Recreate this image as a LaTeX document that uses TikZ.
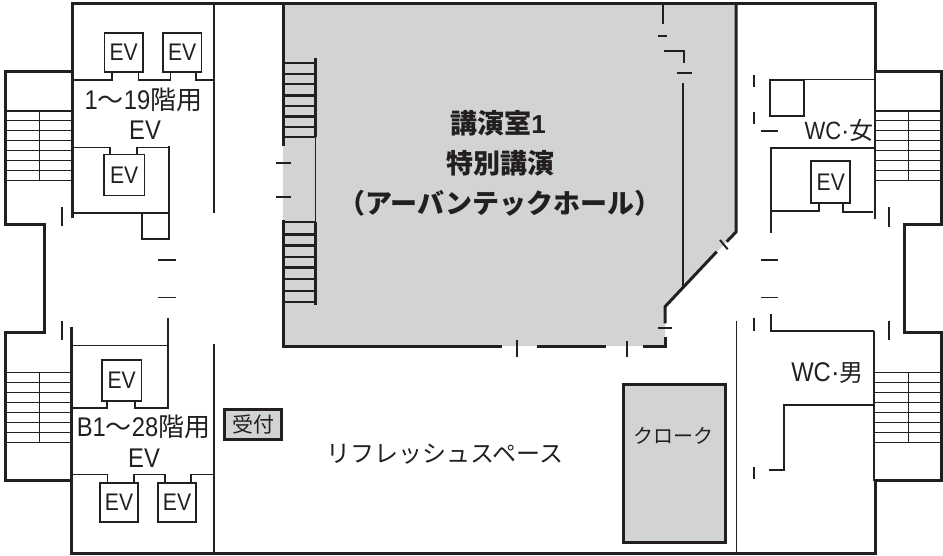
\documentclass[tikz,border=0pt]{standalone}
\usepackage{fontspec}
\usepackage{graphicx}
\setmainfont{Liberation Sans}
\newfontfamily\jp{Noto Sans CJK JP}
\definecolor{ink}{HTML}{231F20}
\definecolor{hallgray}{HTML}{D1D3D4}
\newcommand{\fsz}[1]{\fontsize{#1}{#1}\selectfont}
\newcommand{\cond}[1]{\scalebox{0.88}[1]{#1}}
\tikzset{
  heavy/.style={draw=ink,line width=3pt},
  medium/.style={draw=ink,line width=2pt},
  light/.style={draw=ink,line width=1.5pt},
  evbox/.style={draw=ink,line width=1.8pt,fill=white,minimum width=38.5pt,minimum height=39pt,inner sep=0pt,font=\fsz{24},text=ink},
  label/.style={inner sep=0pt,text=ink,font=\fsz{22}},
  halltext/.style={inner sep=0pt,text=ink,font=\fsz{27}\jp\bfseries},
  graybox/.style={draw=ink,line width=3pt,fill=hallgray,inner sep=0pt}
}
\begin{document}
\begin{tikzpicture}[x=1pt,y=-1pt]
\useasboundingbox (0,0) rectangle (943,555);
% hall fill
\fill[hallgray] (283,3) -- (736,3) -- (736,232) -- (665,306.7) -- (665,346) -- (283,346) -- cycle;
% outer walls
\draw[heavy] (72,218) -- (72,3) -- (875,3) -- (875,71);
\draw[heavy] (72,71) -- (5.5,71) -- (5.5,224) -- (44,224) -- (44,332) -- (5.5,332) -- (5.5,480) -- (73,480);
\draw[heavy] (71.5,327) -- (71.5,553) -- (875,553) -- (875,480.7);
\draw[heavy] (875,71) -- (941.5,71) -- (941.5,224) -- (904,224) -- (904,332) -- (941.5,332) -- (941.5,480.7) -- (875,480.7);
\draw[light] (875,71) -- (875,219);
\draw[light] (874,331) -- (874,481);
% stairs
\foreach \ya in {110.7,120.7,130.7,140.7,150.7,160.7,170.7,180.7}{
  \draw[light] (6,\ya) -- (72,\ya);
  \draw[light] (875,\ya) -- (941,\ya);
}
\foreach \ya in {372.7,382.7,392.7,402.7,412.7,422.7,432.7,442.7}{
  \draw[light] (6,\ya) -- (72,\ya);
  \draw[light] (875,\ya) -- (941,\ya);
}
\draw[medium] (6,110.7) -- (72,110.7) (875,110.7) -- (941,110.7);
\draw[light] (39.5,110) -- (39.5,181) (39.5,372) -- (39.5,443);
\draw[light] (908.7,110) -- (908.7,181) (908.7,372) -- (908.7,443);
% upper-left core
\draw[medium] (213.5,3) -- (213.5,213);
\node[evbox] (evA) at (123.7,52.2) {\cond{EV}};
\node[evbox] (evB) at (182.2,52.2) {\cond{EV}};
\draw[light] (72,80) -- (112,80) -- (112,71.5);
\draw[light] (138.5,71.5) -- (138.5,80) -- (170.5,80) -- (170.5,71.5);
\draw[light] (196,71.5) -- (196,80) -- (213.5,80);
\node[evbox,minimum height=41pt,minimum width=40.5pt] (evC) at (124.2,175) {\cond{EV}};
\draw[light] (72,147.5) -- (110,147.5) -- (110,154.5);
\draw[light] (137,154.5) -- (137,147.5) -- (169,147.5);
\draw[medium] (169,146) -- (169,239) -- (142,239) -- (142,213);
\draw[light] (72,213) -- (169,213);
\node[label] (upLift) at (143.5,100) {\cond{\fsz{27}1}{\jp\fsz{26}〜}\cond{\fsz{27}19}{\jp\fsz{26}階用}};
\node[label] (upEv) at (145,130) {\cond{\fsz{27}EV}};
% lower-left core
\draw[medium] (213.5,344.3) -- (213.5,553);
\draw[medium] (167.5,318) -- (167.5,407.5) -- (134.5,407.5) -- (134.5,401);
\draw[medium] (107,401) -- (107,407.5) -- (72,407.5);
\draw[light] (72,345.7) -- (167.5,345.7);
\node[evbox,minimum height=41pt,minimum width=39.5pt] (evD) at (121.7,380.3) {\cond{EV}};
\draw[light] (72,474.3) -- (107.5,474.3) -- (107.5,484);
\draw[light] (134,484) -- (134,474.3) -- (165,474.3) -- (165,484);
\draw[light] (191,484) -- (191,474.3) -- (213.5,474.3);
\node[evbox] (evE) at (119,502.5) {\cond{EV}};
\node[evbox] (evF) at (177,502.5) {\cond{EV}};
\node[label] (lowLift) at (143.5,426.7) {\cond{\fsz{27}B1}{\jp\fsz{26}〜}\cond{\fsz{27}28}{\jp\fsz{26}階用}};
\node[label] (lowEv) at (144,458) {\cond{\fsz{27}EV}};
% reception
\node[graybox,minimum width=57pt,minimum height=30pt,font=\fsz{21}\jp,text=ink] (reception) at (253,424.2) {受付};
% door ticks, left
\draw[medium] (62,207) -- (62,226) (62,320.7) -- (62,340);
\draw[light] (158,260) -- (176,260) (158,297.5) -- (176,297.5);
% hall walls
\draw[heavy] (283.3,3) -- (283.3,146);
\draw[heavy] (283.3,220) -- (283.3,346) -- (501.7,346);
\draw[heavy] (537.3,346) -- (605.7,346);
\draw[heavy] (643,346) -- (665,346) -- (665,337);
\draw[heavy] (665,323.3) -- (665,306.7) -- (716.7,251.7);
\draw[heavy] (726.7,241.7) -- (736,232) -- (736,3);
\draw[medium] (720,240) -- (727.7,249.3);
\draw[medium] (516.7,340) -- (516.7,356.7);
\draw[medium] (626.7,341) -- (626.7,356.7);
\draw[medium] (657.7,328) -- (671.7,328);
\draw[medium] (682.7,83.3) -- (682.7,286.7);
\draw[medium] (662.7,3) -- (662.7,24);
\draw[medium] (657.7,36) -- (667.3,36);
\draw[medium] (664.3,51) -- (683.7,51) -- (683.7,63);
\draw[medium] (677.3,73.3) -- (692.3,73.3);
% stage stairs
\draw[heavy] (315.7,58.3) -- (315.7,137);
\draw[light] (315.7,137) -- (315.7,222.3);
\draw[heavy] (315.7,222.3) -- (315.7,305);
\foreach \ya/\wd in {63.3/1.8,73.7/1.8,84.3/1.8,95.3/2.6,105.7/1.8,116.7/2.6,127/1.8,137/2.6,222.3/1.8,234.3/2.6,245.7/2.6,256.7/1.8,267.7/2.6,279.3/1.8,290.7/1.8,302/2.6}{
  \draw[draw=ink,line width=\wd pt] (283,\ya) -- (315.7,\ya);
}
\draw[medium] (275.7,163.3) -- (290.7,163.3);
\draw[light] (275.7,197) -- (290.7,197);
% hall texts
\node[halltext] (hallA) at (498,123) {講演室{\rmfamily\bfseries\fsz{26}1}};
\node[halltext] (hallB) at (500,163) {特別講演};
\node[halltext] (hallC) at (500,203) {（アーバンテックホール）};
% women WC
\draw[light] (803.7,79.5) -- (875,79.5);
\draw[medium] (769.7,115.7) -- (769.7,79.5) -- (803.7,79.5) -- (803.7,115.7) -- cycle;
\draw[medium] (753.7,75) -- (753.7,87) (753.7,112) -- (753.7,124);
\draw[medium] (760.7,130.7) -- (778.3,130.7);
\draw[medium] (875,147.5) -- (770.7,147.5) -- (770.7,233);
\node[evbox,minimum height=41.7pt,minimum width=39pt] (evG) at (830.8,181.8) {\cond{EV}};
\draw[medium] (770.7,211) -- (819,211) -- (819,202.7);
\draw[medium] (843.3,202.7) -- (843.3,212) -- (873,212);
\draw[medium] (889,207.3) -- (889,226.7);
\node[label] (wcF) at (839,130) {\cond{\fsz{25}WC}{\fsz{25}\textperiodcentered}{\jp\fsz{24}女}};
\draw[light] (760.7,260) -- (778.3,260) (760.7,297.3) -- (778.3,297.3);
% men WC
\draw[medium] (753.7,317.7) -- (753.7,330.7);
\draw[medium] (770.7,314.3) -- (770.7,331) -- (874,331);
\draw[medium] (889,320.7) -- (889,340);
\draw[light] (736.7,320.7) -- (736.7,553);
\draw[medium] (875,405) -- (784,405) -- (784,470.3) -- (768.7,470.3);
\draw[medium] (753.7,467.3) -- (753.7,479.3);
\node[label] (wcM) at (827.6,373) {\cond{\fsz{27}WC}{\fsz{27}\textperiodcentered}{\jp\fsz{24}男}};
% cloak
\node[graybox,minimum width=102pt,minimum height=157.5pt,font=\fsz{20}\jp,text=ink] (cloak) at (674.8,463.3) {};
\node[inner sep=0pt,font=\fsz{20}\jp,text=ink] (cloakText) at (673,436) {クローク};
% refresh
\node[inner sep=0pt,font=\fsz{24}\jp,text=ink] (refresh) at (445,454) {リフレッシュスペース};
\end{tikzpicture}
\end{document}
